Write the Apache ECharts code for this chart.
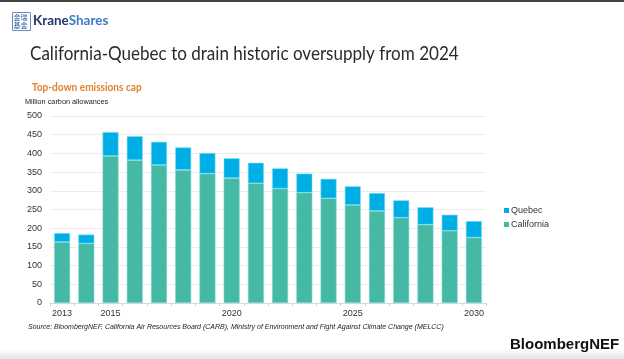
<!DOCTYPE html>
<html>
<head>
<meta charset="utf-8">
<script src="https://cdn.jsdelivr.net/npm/echarts@6/dist/echarts.min.js"></script>
<style>html,body{margin:0;padding:0;background:#fff}#c{width:624px;height:359px}</style>
</head>
<body>
<div id="c"></div>
<script>
const years = ['2013','2014','2015','2016','2017','2018','2019','2020','2021','2022','2023','2024','2025','2026','2027','2028','2029','2030'];
const california = [163,159,393,382,369,356,346,334,320,306,295,280,262,246,228,209.5,193,175];
const quebec = [24,24,64,64,62,60,55,53,55,54,51,52,50,48,46.5,46.5,43,44];
const yTicks = [0,50,100,150,200,250,300,350,400,450,500];

const chart = echarts.init(document.getElementById('c'), null, {renderer:'canvas'});
const AR = 'Liberation Sans, Arial, sans-serif';
chart.setOption({
  animation:false,
  backgroundColor:'#ffffff',
  grid:{left:50, right:138, top:116, bottom:56},
  legend:{
    orient:'vertical', left:499, top:201, itemWidth:5, itemHeight:5, itemGap:5,
    icon:'rect', data:['Quebec','California'],
    itemStyle:{borderWidth:0},
    textStyle:{fontFamily:AR, fontSize:9, color:'#333', padding:[0,0,0,-3]}
  },
  xAxis:{
    type:'category', data:years,
    axisLine:{lineStyle:{color:'#d9d9d9'}},
    axisTick:{show:true, length:3, lineStyle:{color:'#d0d0d0'}},
    axisLabel:{fontFamily:AR, fontSize:9, color:'#333', margin:6,
      interval:0,
      formatter:function(v,i){ return (i===0 || (+v)%5===0) ? v : ''; }}
  },
  yAxis:{
    type:'value', min:yTicks[0], max:yTicks[yTicks.length-1], interval:50,
    axisLine:{show:false}, axisTick:{show:false},
    splitLine:{lineStyle:{color:'#ececec'}},
    axisLabel:{fontFamily:AR, fontSize:9, color:'#333', margin:8}
  },
  series:[
    {name:'California', type:'bar', stack:'cap', data:california, barWidth:'66%',
     itemStyle:{color:'#45b9a3', borderColor:'#7fd6de', borderWidth:0.6}},
    {name:'Quebec', type:'bar', stack:'cap', data:quebec, barWidth:'66%',
     itemStyle:{color:'#00aee6', borderColor:'#7fdcf2', borderWidth:0.6}}
  ],
  graphic:[
    {type:'rect', left:0, top:0, shape:{width:624, height:2}, style:{fill:'#444'}},
    {type:'rect', left:0, top:349, shape:{width:624, height:10},
     style:{fill:new echarts.graphic.LinearGradient(0,0,0,1,[{offset:0,color:'#ffffff'},{offset:1,color:'#e4e4e4'}])}},
    {type:'rect', left:12, top:12, shape:{width:18, height:18}, style:{fill:'#fff', stroke:'#6e8fb8', lineWidth:1}},
    {type:'text', left:13.5, top:13, style:{text:'金瑞\n基金', font:'7px "Noto Sans CJK SC"', fill:'#2f5da3', lineHeight:8}},
    {type:'text', left:33, top:13, scaleX:0.96, style:{text:'{a|Krane}{b|Shares}', rich:{
      a:{fontFamily:'Lato, sans-serif', fontWeight:'bold', fontSize:14, fill:'#24366c'},
      b:{fontFamily:'Lato, sans-serif', fontWeight:'bold', fontSize:14, fill:'#3b7cc2'}}}},
    {type:'text', x:30, y:44, scaleX:0.853, style:{text:'California-Quebec to drain historic oversupply from 2024',
      font:'20px Lato, sans-serif', fill:'#2b2b2b'}},
    {type:'text', x:32, y:81, scaleX:0.84, style:{text:'Top-down emissions cap', font:'bold 12px Lato, sans-serif', fill:'#e3822d'}},
    {type:'text', left:25, top:98, style:{text:'Million carbon allowances', font:'7.3px "Liberation Sans", Arial', fill:'#222'}},
    {type:'text', left:28, top:324, style:{text:'Source: BloombergNEF, California Air Resources Board (CARB), Ministry of Environment and Fight Against Climate Change (MELCC)',
      font:'italic 7px "Liberation Sans", Arial', fill:'#222'}},
    {type:'text', left:510, top:337, style:{text:'BloombergNEF', font:'bold 15px "Liberation Sans", Arial', fill:'#111'}}
  ]
});
</script>
</body>
</html>
